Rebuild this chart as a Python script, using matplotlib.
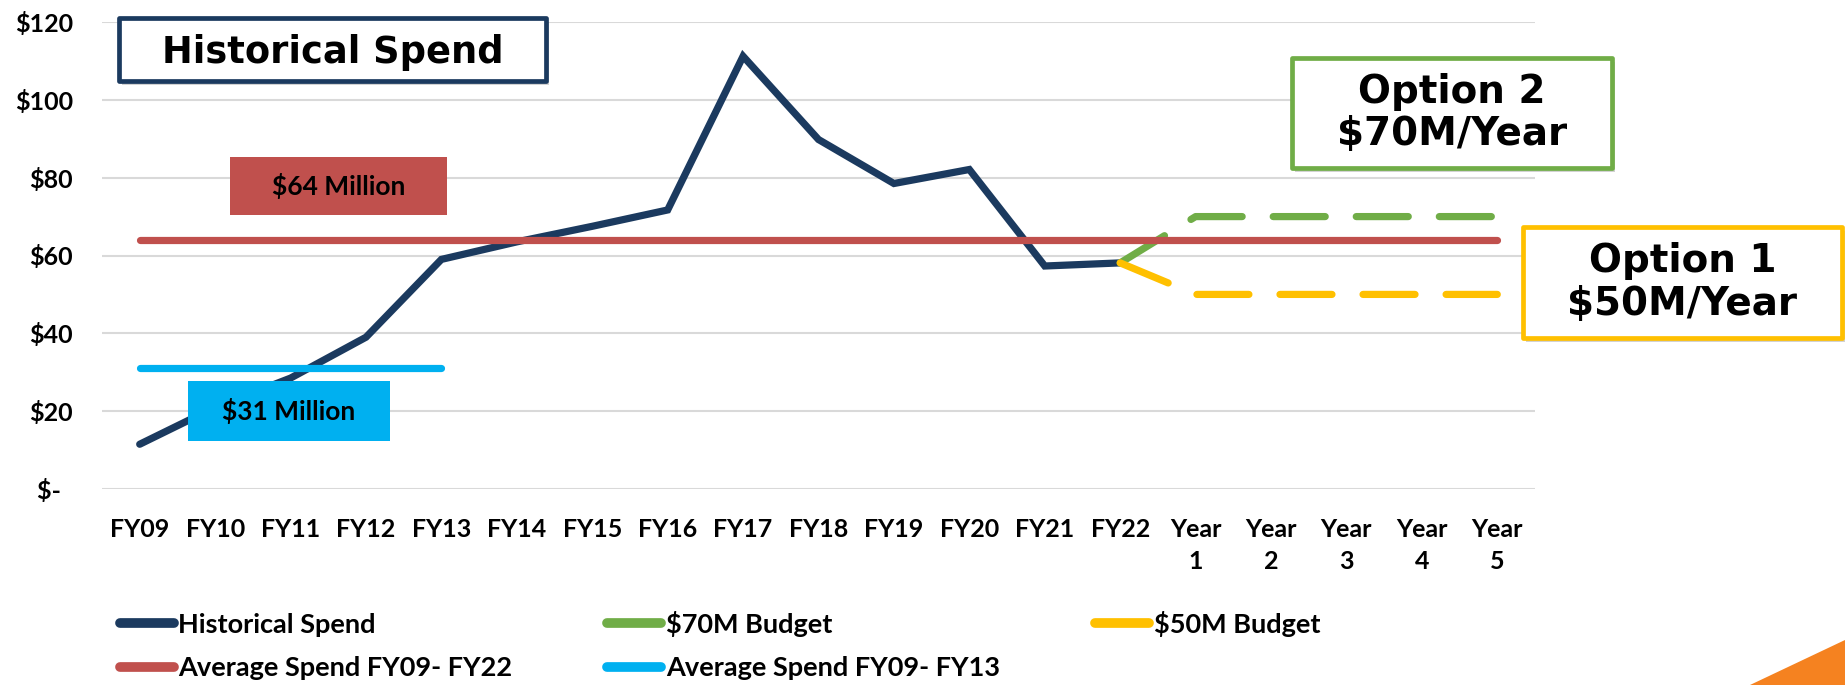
import numpy as np
import matplotlib.pyplot as plt
from matplotlib.patches import Rectangle, Polygon

# chart data
categories = ["FY09", "FY10", "FY11", "FY12", "FY13", "FY14", "FY15", "FY16",
              "FY17", "FY18", "FY19", "FY20", "FY21", "FY22",
              "Year\n1", "Year\n2", "Year\n3", "Year\n4", "Year\n5"]
historical = [11.5, 21.0, 28.5, 39.0, 59.0, 63.5, 67.5, 71.7, 111.2, 89.8,
              78.5, 82.1, 57.3, 58.1]
budget_70 = [58.1, 70, 70, 70, 70, 70]   # FY22 .. Year 5
budget_50 = [58.1, 50, 50, 50, 50, 50]   # FY22 .. Year 5
avg_fy09_fy22 = 64
avg_fy09_fy13 = 31
y_ticks = [0, 20, 40, 60, 80, 100, 120]
y_tick_labels = ["$-  ", "$20", "$40", "$60", "$80", "$100", "$120"]

NAVY = "#1B3A5F"
GREEN = "#70AD47"
GOLD = "#FFC000"
RED = "#C0504D"
CYAN = "#00B0F0"

W, H = 1845, 685
CAL = ["Lato", "DejaVu Sans"]
VER = ["DejaVu Sans"]


def fx(x):
    return x / W


def fy(y):
    return 1 - y / H


def fig_rect(fig, x0, y0, x1, y1, **kw):
    r = Rectangle((fx(x0), fy(y1)), (x1 - x0) / W, (y1 - y0) / H,
                  transform=fig.transFigure, **kw)
    fig.add_artist(r)
    return r


def boxed_label(fig, x0, y0, x1, y1, text, edge, size, family, fill="white", dy=0):
    if edge is not None:
        # soft shadow
        fig_rect(fig, x0 + 3, y0 + 4, x1 + 3, y1 + 4, facecolor="#7F7F7F",
                 edgecolor="none", alpha=0.35, zorder=9)
        fig_rect(fig, x0, y0, x1, y1, facecolor=fill, edgecolor=edge,
                 linewidth=3.4, joinstyle="round", zorder=10)
    else:
        fig_rect(fig, x0, y0, x1, y1, facecolor=fill, edgecolor="none", zorder=10)
    fig.text(fx((x0 + x1) / 2), fy((y0 + y1) / 2 + dy), text, ha="center", va="center",
             fontsize=size, fontweight="bold", family=family, color="black",
             linespacing=1.15, zorder=11)


fig = plt.figure(figsize=(W / 100, H / 100), dpi=100)
ax = fig.add_axes([fx(102), fy(489), (1535 - 102) / W, (489 - 22) / H])

x = np.arange(len(categories))
n_hist = len(historical)
x_future = x[n_hist - 1:]

dash = (7.2, 4.3)
ax.plot(x[:n_hist], historical, color=NAVY, lw=5.2, solid_capstyle="round",
        solid_joinstyle="miter", label="Historical Spend", zorder=3)
ax.plot(x_future, budget_70, color=GREEN, lw=5.2, dashes=dash,
        dash_capstyle="round", label="$70M Budget", zorder=4)
ax.plot(x_future, budget_50, color=GOLD, lw=5.2, dashes=dash,
        dash_capstyle="round", label="$50M Budget", zorder=5)
ax.plot(x, [avg_fy09_fy22] * len(x), color=RED, lw=5.2, solid_capstyle="round",
        label="Average Spend FY09- FY22", zorder=6)
ax.plot(x[:5], [avg_fy09_fy13] * 5, color=CYAN, lw=5.2, solid_capstyle="round",
        label="Average Spend FY09- FY13", zorder=7)

ax.set_xlim(-0.5, len(categories) - 0.5)
ax.set_ylim(0, 120)
ax.set_yticks(y_ticks)
ax.set_yticklabels(y_tick_labels)
ax.set_xticks(x)
ax.set_xticklabels(categories)
ax.grid(axis="y", color="#D9D9D9", lw=1.5, zorder=0)
ax.set_axisbelow(True)
for s in ax.spines.values():
    s.set_visible(False)
ax.tick_params(axis="x", length=0, pad=21)
ax.tick_params(axis="y", length=0, pad=21)
for lab in ax.get_xticklabels():
    lab.set_fontsize(18)
    lab.set_fontweight("bold")
    lab.set_family(CAL)
    lab.set_linespacing(1.45)
for lab in ax.get_yticklabels():
    lab.set_fontsize(18)
    lab.set_fontweight("bold")
    lab.set_family(CAL)

# legend, row-wise order like the original
h, l = ax.get_legend_handles_labels()
order = [0, 3, 1, 4, 2]
leg = fig.legend([h[i] for i in order], [l[i] for i in order], ncol=3,
                 loc="upper left", bbox_to_anchor=(fx(106), fy(597)),
                 frameon=False, handlelength=2.0, handletextpad=0.17,
                 columnspacing=3.5, labelspacing=0.72, borderpad=0,
                 prop={"family": CAL, "weight": "bold", "size": 19.5})
for line in leg.get_lines():
    line.set_linestyle("-")
    line.set_linewidth(7)
    line.set_solid_capstyle("round")

# text boxes
boxed_label(fig, 119, 18, 546, 81, "Historical Spend", NAVY, 26.5, VER, dy=3)
boxed_label(fig, 230, 157, 447, 215, "$64 Million", None, 19, CAL, fill=RED)
boxed_label(fig, 188, 381, 390, 441, "$31 Million", None, 19, CAL, fill=CYAN)
boxed_label(fig, 1292, 58, 1612, 168, "Option 2\n$70M/Year", GREEN, 28, VER)
boxed_label(fig, 1523, 227, 1842, 338, "Option 1\n$50M/Year", GOLD, 28, VER)

# orange slide corner
fig.add_artist(Polygon([(fx(1750), fy(685)), (fx(1845), fy(640)), (fx(1845), fy(685))],
                       closed=True, transform=fig.transFigure,
                       facecolor="#F58220", edgecolor="none"))

fig.savefig("out.png", dpi=100)
